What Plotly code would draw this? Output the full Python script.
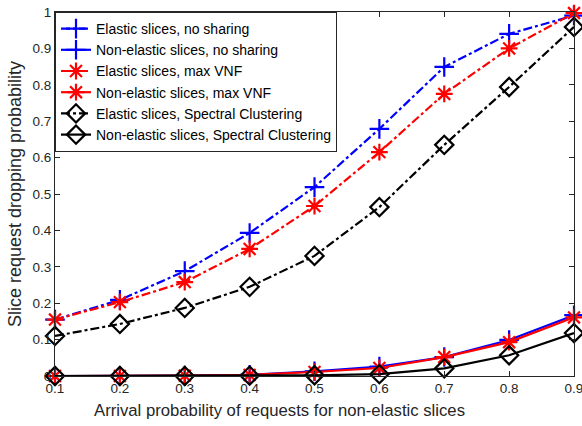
import plotly.graph_objects as go

x = [0.1, 0.2, 0.3, 0.4, 0.5, 0.6, 0.7, 0.8, 0.9]

elastic_no_sharing = [0.155, 0.209, 0.288, 0.393, 0.519, 0.679, 0.849, 0.94, 0.99]
nonelastic_no_sharing = [0.0, 0.0, 0.001, 0.003, 0.013, 0.026, 0.052, 0.099, 0.167]
elastic_max_vnf = [0.155, 0.203, 0.258, 0.349, 0.467, 0.615, 0.775, 0.90, 0.997]
nonelastic_max_vnf = [0.0, 0.0, 0.001, 0.003, 0.011, 0.022, 0.052, 0.093, 0.161]
elastic_sc = [0.11, 0.143, 0.187, 0.245, 0.33, 0.464, 0.635, 0.794, 0.959]
nonelastic_sc = [0.0, 0.0, 0.0, 0.001, 0.002, 0.005, 0.021, 0.057, 0.118]

x_ticks = [0.1, 0.2, 0.3, 0.4, 0.5, 0.6, 0.7, 0.8, 0.9]
x_ticklabels = ["0.1", "0.2", "0.3", "0.4", "0.5", "0.6", "0.7", "0.8", "0.9"]
y_ticks = [0, 0.1, 0.2, 0.3, 0.4, 0.5, 0.6, 0.7, 0.8, 0.9, 1]
y_ticklabels = ["0", "0.1", "0.2", "0.3", "0.4", "0.5", "0.6", "0.7", "0.8", "0.9", "1"]

x_title = "Arrival probability of requests for non-elastic slices"
y_title = "Slice request dropping probability"

series = [
    ("Elastic slices, no sharing", elastic_no_sharing, "#0000FF", "dashdot", "cross-thin-open"),
    ("Non-elastic slices, no sharing", nonelastic_no_sharing, "#0000FF", "solid", "cross-thin-open"),
    ("Elastic slices, max VNF", elastic_max_vnf, "#FF0000", "dashdot", "asterisk-open"),
    ("Non-elastic slices, max VNF", nonelastic_max_vnf, "#FF0000", "solid", "asterisk-open"),
    ("Elastic slices, Spectral Clustering", elastic_sc, "#000000", "dashdot", "diamond-open"),
    ("Non-elastic slices, Spectral Clustering", nonelastic_sc, "#000000", "solid", "diamond-open"),
]

fig = go.Figure()
for name, ys, color, dash, sym in series:
    fig.add_trace(go.Scatter(
        x=x, y=ys, name=name, mode="lines+markers",
        line=dict(color=color, width=2.2, dash=dash),
        marker=dict(symbol=sym, size=14, color=color,
                    line=dict(color=color, width=2.2)),
        cliponaxis=False,
    ))

axis_common = dict(
    showgrid=False, zeroline=False, showline=True, linecolor="#262626",
    linewidth=1, mirror="allticks", ticks="inside", ticklen=5,
    tickcolor="#262626", automargin=False, ticklabeloverflow="allow",
    tickfont=dict(size=13.5, color="#262626",
                  family="Liberation Sans, Arial, sans-serif"),
)

fig.update_layout(
    width=582, height=426,
    margin=dict(l=55, r=8, t=12, b=50),
    paper_bgcolor="white", plot_bgcolor="white",
    font=dict(family="Liberation Sans, Arial, sans-serif", color="#262626"),
    xaxis=dict(range=[0.1, 0.9], tickvals=x_ticks, ticktext=x_ticklabels,
               **axis_common),
    yaxis=dict(range=[0, 1], tickvals=y_ticks, ticktext=y_ticklabels,
               title=dict(text=y_title, font=dict(size=18), standoff=6),
               **axis_common),
    legend=dict(x=0, y=1, xanchor="left", yanchor="top",
                bgcolor="white", bordercolor="#262626", borderwidth=1,
                itemwidth=30,
                font=dict(size=14, color="#000000"), tracegroupgap=0),
    showlegend=True,
    annotations=[dict(text=x_title, xref="paper", yref="paper",
                      x=0.4316, y=-0.096, xanchor="center", yanchor="middle",
                      showarrow=False, font=dict(size=16.7, color="#262626"))],
)

fig.write_html("out.html", config={"displayModeBar": False},
               post_script="document.body.style.margin='0';document.body.style.overflow='hidden';")
